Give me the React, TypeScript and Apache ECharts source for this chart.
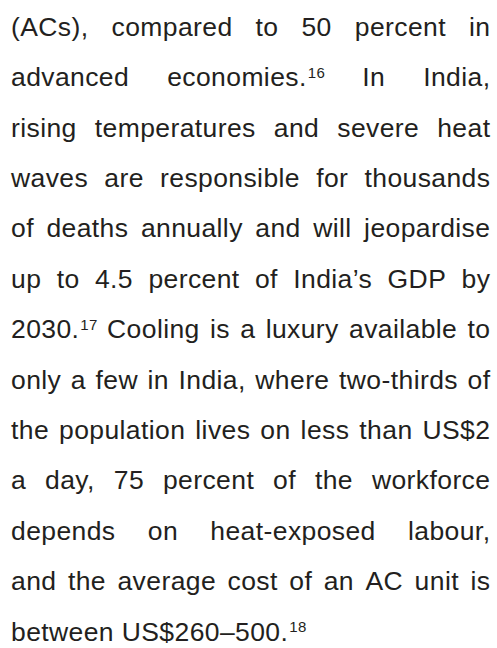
import React, { useEffect, useRef } from "react";
import * as echarts from "echarts";

// Paragraph text, one entry per printed line; "^" marks a superscript note number.
const paragraphLines: string[] = [
  "(ACs), compared to 50 percent in",
  "advanced economies.^16 In India,",
  "rising temperatures and severe heat",
  "waves are responsible for thousands",
  "of deaths annually and will jeopardise",
  "up to 4.5 percent of India’s GDP by",
  "2030.^17 Cooling is a luxury available to",
  "only a few in India, where two-thirds of",
  "the population lives on less than US$2",
  "a day, 75 percent of the workforce",
  "depends on heat-exposed labour,",
  "and the average cost of an AC unit is",
  "between US$260–500.^18",
];

const W = 497;
const H = 648;
const FONT_FAMILY = "Liberation Sans";
const FONT_SIZE = 26.5;
const SUP_SIZE = 15;
const TRACK = 0.4;
const LEFT = 11;
const RIGHT = 490;
const FIRST_BASELINE = 36;
const LINE_GAP = 50.4;
const INK = "#231f20";

function buildGraphics() {
  const canvas = document.createElement("canvas");
  const ctx = canvas.getContext("2d")!;
  const measure = (s: string, size: number) => {
    ctx.font = `${size}px "${FONT_FAMILY}"`;
    return ctx.measureText(s).width + TRACK * s.length;
  };
  const spaceW = measure(" ", FONT_SIZE);
  const elements: any[] = [];
  const centralOffset = 0.3465;

  paragraphLines.forEach((line, li) => {
    const tokens = line.split(" ").map((tok) => {
      const [main, sup] = tok.split("^");
      const mw = measure(main, FONT_SIZE);
      const sw = sup ? measure(sup, SUP_SIZE) : 0;
      return { main, sup, mw, sw, w: mw + sw };
    });
    const total = tokens.reduce((a, t) => a + t.w, 0);
    const isLast = li === paragraphLines.length - 1;
    const gap =
      isLast || tokens.length < 2
        ? spaceW
        : (RIGHT - LEFT + TRACK - total) / (tokens.length - 1);
    const baseline = FIRST_BASELINE + li * LINE_GAP;
    let x = LEFT;
    tokens.forEach((t) => {
      elements.push({
        type: "text",
        x,
        y: baseline - centralOffset * FONT_SIZE,
        silent: true,
        style: {
          text: t.main,
          fontSize: FONT_SIZE,
          fontFamily: FONT_FAMILY,
          fill: INK,
          align: "left",
          textAlign: "left",
          verticalAlign: "middle",
          textVerticalAlign: "middle",
        },
      });
      if (t.sup) {
        elements.push({
          type: "text",
          x: x + t.mw + 1,
          y: baseline - 9 - centralOffset * SUP_SIZE,
          silent: true,
          style: {
            text: t.sup,
            fontSize: SUP_SIZE,
            fontFamily: FONT_FAMILY,
            fill: INK,
            align: "left",
            textAlign: "left",
            verticalAlign: "middle",
            textVerticalAlign: "middle",
          },
        });
      }
      x += t.w + gap;
    });
  });
  return elements;
}

export default function App() {
  const ref = useRef<HTMLDivElement>(null);
  useEffect(() => {
    if (!ref.current) return;
    const chart = echarts.init(ref.current, undefined, {
      renderer: "svg",
      width: W,
      height: H,
    });
    chart.setOption({
      animation: false,
      backgroundColor: "#ffffff",
      graphic: { elements: buildGraphics() },
    });
    return () => chart.dispose();
  }, []);
  return (
    <div
      ref={ref}
      style={{
        position: "fixed",
        left: 0,
        top: 0,
        width: W,
        height: H,
        letterSpacing: `${TRACK}px`,
        background: "#ffffff",
      }}
    />
  );
}
